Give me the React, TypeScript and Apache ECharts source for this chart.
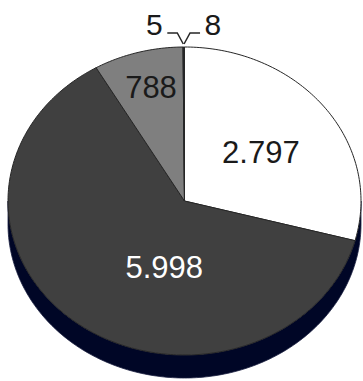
import React, { useEffect, useRef } from 'react';
import * as echarts from 'echarts';

// Data
const sliceValues: number[] = [2797, 5998, 788, 5, 8];
const sliceColors: string[] = ['#ffffff', '#404040', '#7f7f7f', '#0070c0', '#1c2a5e'];
const labelColors: string[] = ['#1a1a1a', '#ffffff', '#1a1a1a', '#1a1a1a', '#1a1a1a'];
// label placement: inside (angle in degrees clockwise from top, radius fraction) or outside (side)
const labelAnchors: { angle?: number; r?: number; side?: number }[] = [
  { angle: 53.7, r: 0.537 },
  { angle: 195, r: 0.444 },
  { angle: 345.5, r: 0.758 },
  { side: -1 },
  { side: 1 },
];

const CX = 184.5;
const CY = 201;
const RX = 176.5;
const RY = 154;
const DEPTH = 23;
const FONT = 'Liberation Sans, Arial, sans-serif';

function fmt(v: number): string {
  return String(v).replace(/\B(?=(\d{3})+(?!\d))/g, '.');
}

function pt(angleDeg: number, f = 1): number[] {
  const a = (angleDeg * Math.PI) / 180;
  return [CX + RX * f * Math.sin(a), CY - RY * f * Math.cos(a)];
}

export default function App() {
  const ref = useRef<HTMLDivElement>(null);
  useEffect(() => {
    if (!ref.current) return;
    const chart = echarts.init(ref.current, undefined, { renderer: 'svg' });
    const total = sliceValues.reduce((a, b) => a + b, 0);
    const cum: number[] = [];
    let acc = 0;
    sliceValues.forEach((v) => {
      cum.push(acc);
      acc += v;
    });

    chart.setOption({
      animation: false,
      backgroundColor: '#ffffff',
      series: [
        {
          type: 'custom',
          name: 'side',
          coordinateSystem: 'none',
          z: 1,
          silent: true,
          data: [0],
          renderItem: () => {
            const pts: number[][] = [];
            for (let a = 90; a <= 270; a += 1) pts.push(pt(a));
            for (let a = 270; a >= 90; a -= 1) {
              const p = pt(a);
              pts.push([p[0], p[1] + DEPTH]);
            }
            return {
              type: 'polygon',
              shape: { points: pts },
              style: { fill: '#000626', stroke: '#1a2040', lineWidth: 0.8 },
            };
          },
        },
        {
          type: 'custom',
          name: 'pie',
          coordinateSystem: 'none',
          z: 2,
          data: sliceValues.map((v) => [v]),
          renderItem: (params: any, api: any) => {
            const i = params.dataIndex;
            const v = api.value(0);
            const start = (cum[i] / total) * 360;
            const end = ((cum[i] + v) / total) * 360;
            const steps = Math.max(2, Math.ceil(end - start));
            const pts: number[][] = [[CX, CY]];
            for (let k = 0; k <= steps; k++) pts.push(pt(start + ((end - start) * k) / steps));
            const children: any[] = [
              {
                type: 'polygon',
                shape: { points: pts },
                style: { fill: sliceColors[i], stroke: '#262626', lineWidth: 1 },
              },
            ];
            const anc = labelAnchors[i];
            const text = fmt(v);
            if (anc.side) {
              const mid = (start + end) / 2;
              const e = pt(mid);
              const s = anc.side;
              children.push({
                type: 'polyline',
                shape: {
                  points: [
                    [e[0], e[1] - 3],
                    [e[0] + s * 6, 33],
                    [e[0] + s * 16, 33],
                  ],
                },
                style: { stroke: '#262626', lineWidth: 1.5, fill: 'none' },
                z2: 10,
              });
              children.push({
                type: 'text',
                x: e[0] + s * 20.5,
                y: 24,
                style: {
                  text,
                  fill: labelColors[i],
                  fontSize: 30,
                  fontFamily: FONT,
                  align: s < 0 ? 'right' : 'left',
                  verticalAlign: 'middle',
                },
                z2: 10,
              });
            } else {
              const p = pt(anc.angle as number, anc.r as number);
              children.push({
                type: 'text',
                x: p[0],
                y: p[1],
                style: {
                  text,
                  fill: labelColors[i],
                  fontSize: 31,
                  fontFamily: FONT,
                  align: 'center',
                  verticalAlign: 'middle',
                },
                z2: 10,
              });
            }
            return { type: 'group', children };
          },
        },
      ],
    });
    return () => chart.dispose();
  }, []);
  return (
    <div
      ref={ref}
      style={{ position: 'fixed', left: 0, top: 0, width: 363, height: 381 }}
    />
  );
}
